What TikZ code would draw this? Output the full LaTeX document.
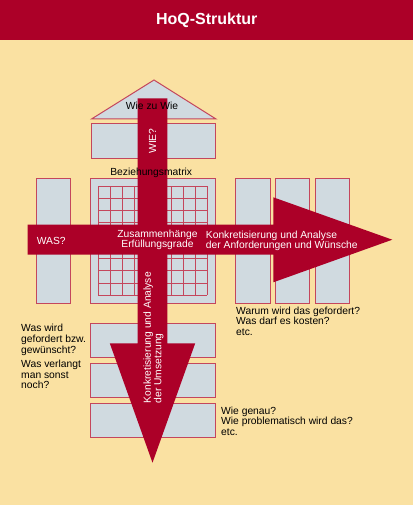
\documentclass[tikz,border=0pt]{standalone}
\usepackage{fontspec}
\setmainfont{Liberation Sans}
\usetikzlibrary{positioning}

\definecolor{hoqred}{RGB}{172,0,40}
\definecolor{hoqtan}{RGB}{250,225,162}
\definecolor{hoqgray}{RGB}{208,218,224}
\definecolor{hoqline}{RGB}{196,70,92}

\tikzset{
  part/.style={draw=hoqline, fill=hoqgray, line width=1pt, inner sep=0pt, outer sep=0pt},
  cell/.style={draw=hoqline, line width=0.9pt},
  bar/.style={fill=hoqred},
  note/.style={align=left, inner sep=0pt, text=black},
  ontop/.style={inner sep=0pt, text=white},
}

\begin{document}
\begin{tikzpicture}[x=1pt, y=-1pt, font=\fontsize{10.3}{10.6}\selectfont]
\useasboundingbox (0,0) rectangle (413,505);
\fill[hoqtan] (0,0) rectangle (413,505);

% title
\node[fill=hoqred, text=white, anchor=north west, minimum width=413pt, minimum height=40pt,
      inner sep=0pt, font=\fontsize{16}{16}\selectfont\bfseries] (title) at (0,0) {HoQ-Struktur};

% roof (Wie zu Wie)
\coordinate (roof-l) at (91.5,119);
\coordinate (roof-t) at (154,80);
\coordinate (roof-r) at (216,119);
\draw[part] (roof-l) -- (roof-t) -- (roof-r) -- cycle;
\node[part, minimum width=124.5pt, minimum height=35pt] (wie) at (153.7,140.8) {};

% WAS column and matrix
\node[part, minimum width=34.3pt, minimum height=125pt] (was) at (53.8,240.8) {};
\node[part, minimum width=125pt, minimum height=125pt] (matrix) at (153.3,240.8) {};
\coordinate (gridnw) at (98.4,186.2);
\foreach \i in {0,...,9}{
  \draw[cell] ([xshift=\i*12.1pt]gridnw) -- ++(0,108.9);
  \draw[cell] ([yshift=-\i*12.1pt]gridnw) -- ++(108.9,0);
}

% right columns
\node[part, minimum width=34.3pt, minimum height=125pt] (col-a) at (252.9,240.8) {};
\node[part, minimum width=34.3pt, minimum height=125pt, right=5.6pt of col-a] (col-b) {};
\node[part, minimum width=34.3pt, minimum height=125pt, right=5.6pt of col-b] (col-c) {};

% lower boxes
\node[part, minimum width=124.7pt, minimum height=34.5pt] (low-a) at (153.3,340.5) {};
\node[part, minimum width=124.7pt, minimum height=34.5pt, below=5.6pt of low-a] (low-b) {};
\node[part, minimum width=124.7pt, minimum height=34.5pt, below=5.6pt of low-b] (low-c) {};

% arrows
\fill[bar] (27.7,224.5) -- (273.3,224.5) -- (273.3,197.3) -- (392.3,239.7)
   -- (273.3,282.3) -- (273.3,254.5) -- (27.7,254.5) -- cycle;
\fill[bar] (137.7,98.3) -- (167.3,98.3) -- (167.3,343.3) -- (195.2,343.3)
   -- (152.5,462.7) -- (109.8,343.3) -- (137.7,343.3) -- cycle;

% labels
\node[inner sep=0pt, anchor=base] (wzw) at (152,110) {Wie zu Wie};
\node[ontop, rotate=90] (wie-q) at (152.5,141) {WIE?};
\node[inner sep=0pt, anchor=base] (bez) at (151.2,175.7) {Beziehungsmatrix};
\node[ontop, anchor=base west] (was-q) at (36.7,244) {WAS?};
\node[ontop, align=center] (zus) at (157.5,240) {Zusammenhänge\\Erfüllungsgrade};
\node[ontop, align=left, anchor=north west] (konk-h) at (205.7,230.5)
  {Konkretisierung und Analyse\\der Anforderungen und Wünsche};
\node[ontop, align=left, rotate=90, anchor=west] (konk-v) at (153.5,403.5)
  {Konkretisierung und Analyse\\der Umsetzung};

% notes
\node[note, anchor=north west] (warum) at (236,306.7)
  {Warum wird das gefordert?\\Was darf es kosten?\\etc.};
\node[note, anchor=north west] (wird) at (21,324.3)
  {Was wird\\gefordert bzw.\\gewünscht?};
\node[note, anchor=north west] (sonst) at (21,360)
  {Was verlangt\\man sonst\\noch?};
\node[note, anchor=north west] (genau) at (221,406.7)
  {Wie genau?\\Wie problematisch wird das?\\etc.};
\end{tikzpicture}
\end{document}
